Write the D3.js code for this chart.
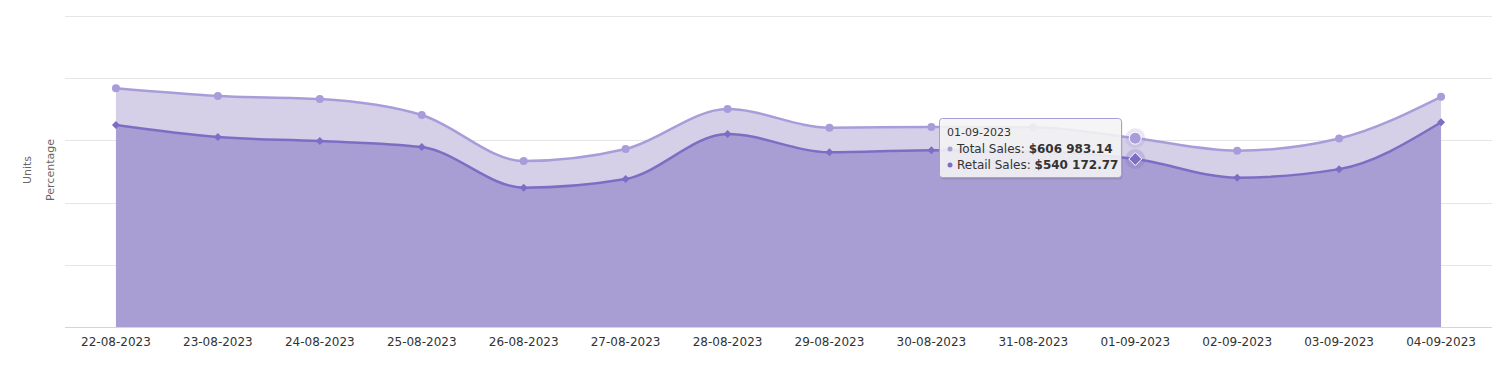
<!DOCTYPE html>
<html>
<head>
<meta charset="utf-8">
<script src="https://cdn.jsdelivr.net/npm/d3@7/dist/d3.min.js"></script>
<style>
  html, body { margin: 0; padding: 0; background: #fff; }
  svg { display: block; font-family: "DejaVu Sans", sans-serif; }
</style>
</head>
<body>
<svg id="chart" width="1500" height="370"></svg>
<script>
const categories = ["22-08-2023","23-08-2023","24-08-2023","25-08-2023","26-08-2023","27-08-2023","28-08-2023","29-08-2023","30-08-2023","31-08-2023","01-09-2023","02-09-2023","03-09-2023","04-09-2023"];
const totalSales = [767500, 742800, 733100, 681700, 533700, 572300, 700900, 641000, 643100, 642100, 606983.14, 566900, 606000, 740100];
const retailSales = [649500, 610900, 598100, 578800, 448000, 475900, 620600, 562000, 568400, 564000, 540172.77, 480200, 507600, 658200];
const yTicks = [0, 200000, 400000, 600000, 800000, 1000000];
const hoverIndex = 10;

const svg = d3.select("#chart");
const plotLeft = 65, plotRight = 1492, plotTop = 16, plotBottom = 327;

const x = d3.scaleBand().domain(categories).range([plotLeft, plotRight]);
const cx = d => x(d) + x.bandwidth() / 2;
const y = d3.scaleLinear().domain([0, 1000000]).range([plotBottom, plotTop]);

// gridlines
svg.append("g").selectAll("line").data(yTicks.slice(1)).join("line")
  .attr("x1", plotLeft).attr("x2", plotRight)
  .attr("y1", d => Math.round(y(d)) + 0.5).attr("y2", d => Math.round(y(d)) + 0.5)
  .attr("stroke", "#e6e6e6").attr("stroke-width", 1);

// axis titles
svg.append("text").attr("transform", "translate(31,170) rotate(-90)")
  .attr("text-anchor", "middle").attr("font-size", 11).attr("fill", "#666").text("Units");
svg.append("text").attr("transform", "translate(54,170) rotate(-90)")
  .attr("text-anchor", "middle").attr("font-size", 11).attr("fill", "#666").text("Percentage");

const curve = d3.curveMonotoneX;
const series = [
  { name: "Total Sales", values: totalSales, fill: "#d5d0e8", line: "#a99dd9", marker: "circle" },
  { name: "Retail Sales", values: retailSales, fill: "#a89ed4", line: "#7d6dc4", marker: "diamond" }
];

series.forEach(s => {
  const pts = categories.map((c, i) => [cx(c), s.values[i]]);
  const area = d3.area().x(d => d[0]).y0(y(0)).y1(d => y(d[1])).curve(curve);
  const line = d3.line().x(d => d[0]).y(d => y(d[1])).curve(curve);
  svg.append("path").attr("d", area(pts)).attr("fill", s.fill);
  svg.append("path").attr("d", line(pts)).attr("fill", "none")
    .attr("stroke", s.line).attr("stroke-width", 2.5);
});

// markers
series.forEach(s => {
  const g = svg.append("g");
  categories.forEach((c, i) => {
    const px = cx(c), py = y(s.values[i]);
    const hov = i === hoverIndex;
    if (hov) g.append("circle").attr("cx", px).attr("cy", py).attr("r", 10).attr("fill", s.line).attr("opacity", 0.25);
    if (s.marker === "circle") {
      g.append("circle").attr("cx", px).attr("cy", py).attr("r", hov ? 6 : 4)
        .attr("fill", s.line).attr("stroke", hov ? "#fff" : "none").attr("stroke-width", 1);
    } else {
      const r = hov ? 6.5 : 4;
      g.append("path").attr("d", `M${px},${py - r}L${px + r},${py}L${px},${py + r}L${px - r},${py}Z`)
        .attr("fill", s.line).attr("stroke", hov ? "#fff" : "none").attr("stroke-width", 1);
    }
  });
});

// x axis
svg.append("line").attr("x1", plotLeft).attr("x2", plotRight).attr("y1", plotBottom + 0.5).attr("y2", plotBottom + 0.5)
  .attr("stroke", "#ccd6eb");
svg.append("g").selectAll("text").data(categories).join("text")
  .attr("x", d => cx(d)).attr("y", 346).attr("text-anchor", "middle")
  .attr("font-size", 12).attr("fill", "#333").text(d => d);

// tooltip
const fmt = v => "$" + d3.format(",.2f")(v).replace(/,/g, " ");
const tip = svg.append("g").attr("transform", "translate(939,118)");
tip.append("rect").attr("x", 1.5).attr("y", 1.5).attr("width", 182).attr("height", 60).attr("rx", 3)
  .attr("fill", "#000").attr("opacity", 0.1);
tip.append("rect").attr("x", 0.5).attr("y", 0.5).attr("width", 182).attr("height", 59).attr("rx", 3)
  .attr("fill", "rgba(247,247,247,0.88)").attr("stroke", "#a99dd9").attr("stroke-width", 1);
tip.append("text").attr("x", 8).attr("y", 18).attr("font-size", 11).attr("fill", "#333").text(categories[hoverIndex]);
series.forEach((s, k) => {
  const yy = 35 + k * 16;
  tip.append("circle").attr("cx", 11).attr("cy", yy - 4).attr("r", 2.5).attr("fill", s.line);
  const t = tip.append("text").attr("x", 18).attr("y", yy).attr("font-size", 12).attr("fill", "#333");
  t.append("tspan").text(s.name + ": ");
  t.append("tspan").attr("font-weight", "bold").text(fmt(s.values[hoverIndex]));
});
</script>
</body>
</html>
